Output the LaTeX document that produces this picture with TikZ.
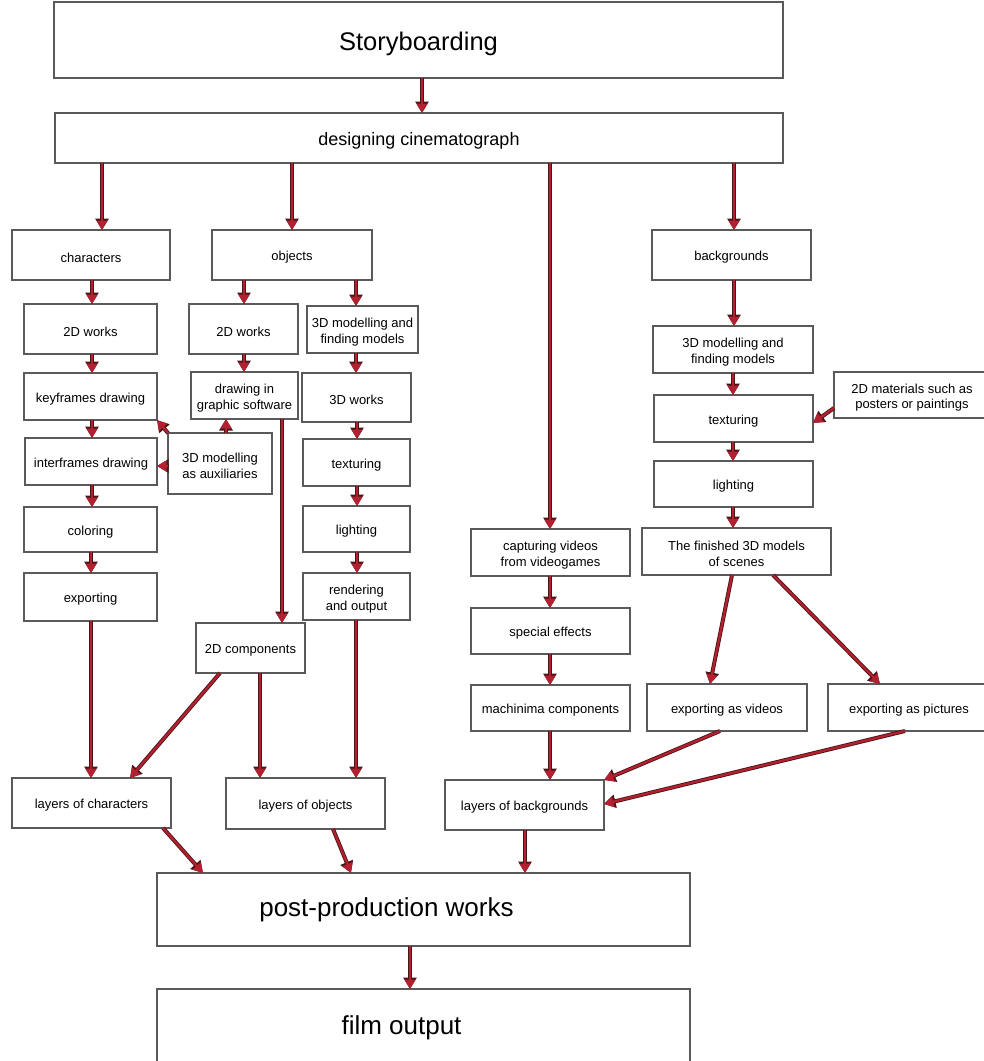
\documentclass[tikz,border=0pt]{standalone}
\usepackage{fontspec}
\setmainfont{Liberation Sans}
\usetikzlibrary{arrows.meta}
\definecolor{arrred}{HTML}{B3202F}
\definecolor{arrdark}{HTML}{4A1518}
\definecolor{boxline}{HTML}{5A5A5A}
\tikzset{
  box/.style={draw=boxline, line width=1.3pt, fill=white, inner sep=0pt,
    outer sep=0pt},
  txt/.style={inner sep=0pt, align=center, font=\fontsize{13}{15.5}\selectfont},
  arr/.style={draw=arrred, line width=2.3pt,
    -{Triangle[length=9.5pt,width=10.5pt]},
    preaction={draw=arrdark, line width=4pt,
      -{Triangle[length=11.5pt,width=13pt]}}},
}
% \mkbox[text options]{name}{x1}{y1}{x2}{y2}{text}
\newcommand\mkbox[7][]{%
  \node[box,minimum width={(#5-#3)*1pt},minimum height={(#6-#4)*1pt}]
    (#2) at ({(#3+#5)/2},{(#4+#6)/2}) {};
  \node[txt,#1] (#2-t) at ([yshift=-2.5pt]#2.center) {#7};}
\begin{document}
\begin{tikzpicture}[x=1pt,y=-1pt]
\useasboundingbox[fill=white] (0,0) rectangle (984,1061);

% top
\mkbox[font=\fontsize{25.5}{30}\selectfont, yshift=-1pt]{story}{54}{2}{783}{78}{Storyboarding}
\mkbox[font=\fontsize{18}{21}\selectfont]{design}{55}{113}{783}{163}{designing cinematograph}

% characters column
\mkbox{char}{12}{230}{170}{280}{characters}
\mkbox{ctwo}{24}{304}{157}{354}{2D works}
\mkbox{key}{24}{373}{157}{420}{keyframes drawing}
\mkbox{inter}{25}{438}{157}{485}{interframes drawing}
\mkbox{color}{24}{507}{157}{552}{coloring}
\mkbox{export}{24}{573}{157}{621}{exporting}
\mkbox{lchar}{12}{778}{171}{828}{layers of characters}

% objects column
\mkbox{obj}{212}{230}{372}{280}{objects}
\mkbox{otwo}{189}{304}{298}{354}{2D works}
\mkbox{omod}{307}{306}{418}{353}{3D modelling and\\finding models}
\mkbox{drawsw}{191}{372}{298}{419}{drawing in\\graphic software}
\mkbox{aux}{168}{433}{272}{494}{3D modelling\\as auxiliaries}
\mkbox{owork}{302}{373}{411}{422}{3D works}
\mkbox{otex}{303}{439}{410}{486}{texturing}
\mkbox{olight}{303}{506}{410}{552}{lighting}
\mkbox{render}{303}{573}{410}{620}{rendering\\and output}
\mkbox{comp}{196}{623}{305}{673}{2D components}
\mkbox{lobj}{226}{778}{385}{829}{layers of objects}

% machinima column
\mkbox{capture}{471}{529}{630}{576}{capturing videos\\from videogames}
\mkbox{special}{471}{608}{630}{654}{special effects}
\mkbox{mach}{471}{685}{630}{731}{machinima components}
\mkbox{lbg}{445}{780}{604}{830}{layers of backgrounds}

% backgrounds column
\mkbox{bg}{652}{230}{811}{280}{backgrounds}
\mkbox{bmod}{653}{326}{813}{373}{3D modelling and\\finding models}
\mkbox{mat}{834}{372}{990}{418}{2D materials such as\\posters or paintings}
\mkbox{btex}{654}{395}{813}{442}{texturing}
\mkbox{blight}{654}{461}{813}{507}{lighting}
\mkbox{fin}{642}{528}{831}{575}{The finished 3D models\\of scenes}
\mkbox{expv}{647}{684}{807}{731}{exporting as videos}
\mkbox{expp}{828}{684}{990}{731}{exporting as pictures}

% bottom boxes, captions set a little left of centre
\mkbox[font=\fontsize{26}{30}\selectfont, xshift=-37pt, yshift=2.5pt]{post}{157}{873}{690}{946}{post-production works}
\mkbox[font=\fontsize{26}{30}\selectfont, xshift=-22pt, yshift=1.5pt]{film}{157}{989}{690}{1064}{film output}

% connectors
\draw[arr] (422,0 |- story.south) -- (422,0 |- design.north);
\draw[arr] (102,0 |- design.south) -- (102,0 |- char.north);
\draw[arr] (292,0 |- design.south) -- (292,0 |- obj.north);
\draw[arr] (550,0 |- design.south) -- (550,0 |- capture.north);
\draw[arr] (734,0 |- design.south) -- (734,0 |- bg.north);

\draw[arr] (92,0 |- char.south) -- (92,0 |- ctwo.north);
\draw[arr] (92,0 |- ctwo.south) -- (92,0 |- key.north);
\draw[arr] (92,0 |- key.south) -- (92,0 |- inter.north);
\draw[arr] (92,0 |- inter.south) -- (92,0 |- color.north);
\draw[arr] (91,0 |- color.south) -- (91,0 |- export.north);
\draw[arr] (91,0 |- export.south) -- (91,0 |- lchar.north);

\draw[arr] (244,0 |- obj.south) -- (244,0 |- otwo.north);
\draw[arr] (356,0 |- obj.south) -- (356,0 |- omod.north);
\draw[arr] (244,0 |- otwo.south) -- (244,0 |- drawsw.north);
\draw[arr] (226,0 |- aux.north) -- (226,0 |- drawsw.south);
\draw[arr] (aux.north west) -- (key.south east);
\draw[arr] (aux.west |- 0,466) -- (inter.east |- 0,466);
\draw[arr] (282,0 |- drawsw.south) -- (282,0 |- comp.north);
\draw[arr] (356,0 |- omod.south) -- (356,0 |- owork.north);
\draw[arr] (357,0 |- owork.south) -- (357,0 |- otex.north);
\draw[arr] (357,0 |- otex.south) -- (357,0 |- olight.north);
\draw[arr] (357,0 |- olight.south) -- (357,0 |- render.north);
\draw[arr] (356,0 |- render.south) -- (356,0 |- lobj.north);
\draw[arr] (220,0 |- comp.south) -- (130,0 |- lchar.north);
\draw[arr] (260,0 |- comp.south) -- (260,0 |- lobj.north);

\draw[arr] (550,0 |- capture.south) -- (550,0 |- special.north);
\draw[arr] (550,0 |- special.south) -- (550,0 |- mach.north);
\draw[arr] (550,0 |- mach.south) -- (550,0 |- lbg.north);

\draw[arr] (734,0 |- bg.south) -- (734,0 |- bmod.north);
\draw[arr] (733,0 |- bmod.south) -- (733,0 |- btex.north);
\draw[arr] (733,0 |- btex.south) -- (733,0 |- blight.north);
\draw[arr] (733,0 |- blight.south) -- (733,0 |- fin.north);
\draw[arr] (mat.west |- 0,408) -- (btex.east |- 0,423);
\draw[arr] (732,0 |- fin.south) -- (710,0 |- expv.north);
\draw[arr] (773,0 |- fin.south) -- (880,0 |- expp.north);
\draw[arr] (720,0 |- expv.south) -- (lbg.north east);
\draw[arr] (905,0 |- expp.south) -- (lbg.east |- 0,804);

\draw[arr] (163,0 |- lchar.south) -- (203,0 |- post.north);
\draw[arr] (333,0 |- lobj.south) -- (351,0 |- post.north);
\draw[arr] (525,0 |- lbg.south) -- (525,0 |- post.north);
\draw[arr] (410,0 |- post.south) -- (410,0 |- film.north);
\end{tikzpicture}
\end{document}
